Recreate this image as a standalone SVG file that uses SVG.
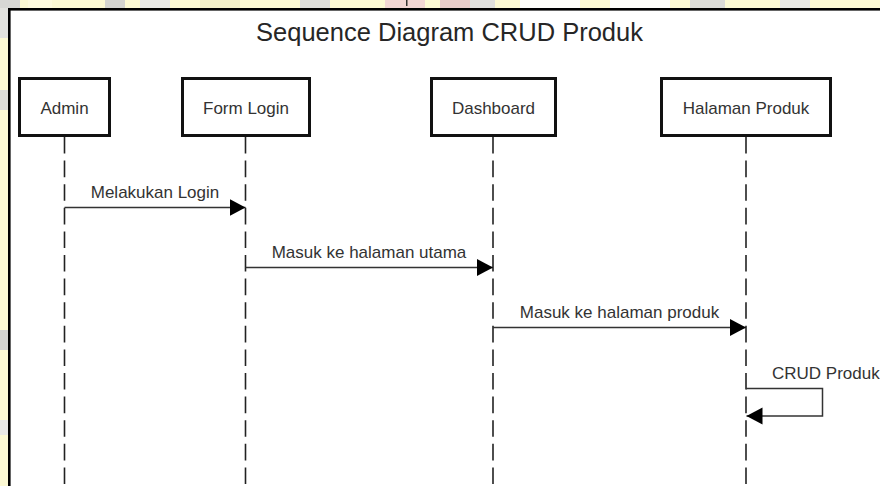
<svg xmlns="http://www.w3.org/2000/svg" width="880" height="486" viewBox="0 0 880 486">
  <style>
    .lbl { font-family: "Liberation Sans", Arial, sans-serif; font-size: 17px; fill: #333; }
    .title { font-family: "Liberation Sans", Arial, sans-serif; font-size: 25.5px; fill: #262626; }
    .box { fill: #fff; stroke: #111; stroke-width: 3; }
    .life { stroke: #222; stroke-width: 1.6; stroke-dasharray: 16.6 7; fill: none; }
    .msg { stroke: #333; stroke-width: 1.5; fill: none; marker-end: url(#arr); }
  </style>
  <defs>
    <marker id="arr" markerUnits="userSpaceOnUse" markerWidth="17" markerHeight="18" refX="16" refY="8.5" orient="auto" viewBox="0 0 17 18">
      <path d="M0,0 L16,8.5 L0,17 Z" fill="#000"/>
    </marker>
  </defs>
  <!-- background outside the frame -->
  <rect x="0" y="0" width="880" height="486" fill="#fcf9d4"/>
  <g id="bg-noise" opacity="0.9">
    <rect x="0" y="0" width="20" height="8" fill="#d4d4d4"/>
    <rect x="0" y="8" width="8" height="30" fill="#e0e0e0"/>
    <rect x="28" y="0" width="24" height="8" fill="#fffce0"/>
    <rect x="105" y="0" width="20" height="8" fill="#d0d0d0"/>
    <rect x="140" y="0" width="30" height="8" fill="#e8e8e8"/>
    <rect x="200" y="0" width="40" height="8" fill="#f3f0c8"/>
    <rect x="300" y="0" width="30" height="8" fill="#dadada"/>
    <rect x="385" y="0" width="40" height="8" fill="#f2d4d4"/>
    <rect x="440" y="0" width="30" height="8" fill="#e6c8c8"/>
    <rect x="470" y="0" width="25" height="8" fill="#dedede"/>
    <rect x="520" y="0" width="60" height="8" fill="#ffffff"/>
    <rect x="610" y="0" width="60" height="8" fill="#ffffff"/>
    <rect x="690" y="0" width="35" height="8" fill="#d8d8d8"/>
    <rect x="780" y="0" width="30" height="8" fill="#e4e4e4"/>
    <rect x="0" y="90" width="8" height="20" fill="#d8d8d8"/>
    <rect x="0" y="330" width="8" height="20" fill="#d0d0d0"/>
    <rect x="0" y="420" width="8" height="15" fill="#e8e8e8"/>
    <rect x="406" y="0" width="1.5" height="6" fill="#222"/>
  </g>
  <!-- frame -->
  <rect id="frame" x="9.3" y="9.3" width="900" height="500" fill="#fff" stroke="#000" stroke-width="2.6"/>
  <text class="title" x="449.5" y="41" text-anchor="middle">Sequence Diagram CRUD Produk</text>

  <g id="connectors">
    <line class="life" x1="64.5" y1="137" x2="64.5" y2="486"/>
    <line class="life" x1="245.5" y1="137" x2="245.5" y2="486"/>
    <line class="life" x1="493" y1="137" x2="493" y2="486"/>
    <line class="life" x1="746" y1="137" x2="746" y2="486"/>

    <line class="msg" x1="64.5" y1="207.5" x2="245.5" y2="207.5"/>
    <text class="lbl" x="155" y="198" text-anchor="middle">Melakukan Login</text>

    <line class="msg" x1="245.5" y1="267.5" x2="493" y2="267.5"/>
    <text class="lbl" x="369" y="258" text-anchor="middle">Masuk ke halaman utama</text>

    <line class="msg" x1="493" y1="327.5" x2="746" y2="327.5"/>
    <text class="lbl" x="619.5" y="318" text-anchor="middle">Masuk ke halaman produk</text>

    <path class="msg" d="M746,388.5 H822.5 V416 H746.5"/>
    <text class="lbl" x="772" y="378.5">CRUD Produk</text>
  </g>

  <g id="admin">
    <rect class="box" x="19.5" y="78.5" width="90" height="57"/>
    <text class="lbl" x="64.5" y="114" text-anchor="middle">Admin</text>
  </g>
  <g id="form-login">
    <rect class="box" x="182.5" y="78.5" width="127" height="57"/>
    <text class="lbl" x="246" y="114" text-anchor="middle">Form Login</text>
  </g>
  <g id="dashboard">
    <rect class="box" x="431.5" y="78.5" width="124" height="57"/>
    <text class="lbl" x="493.5" y="114" text-anchor="middle">Dashboard</text>
  </g>
  <g id="halaman-produk">
    <rect class="box" x="661.5" y="78.5" width="169" height="57"/>
    <text class="lbl" x="746" y="114" text-anchor="middle">Halaman Produk</text>
  </g>
</svg>
